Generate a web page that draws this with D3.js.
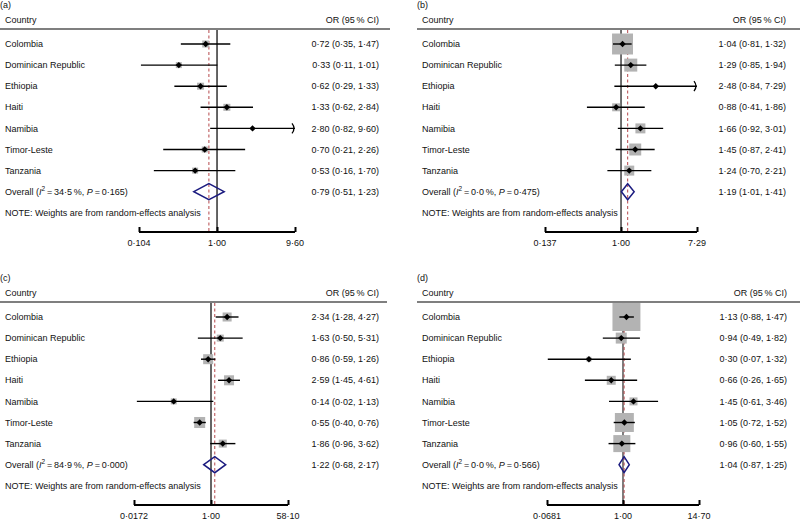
<!DOCTYPE html>
<html><head><meta charset="utf-8">
<script src="https://cdn.jsdelivr.net/npm/d3@7"></script>
<style>
html,body{margin:0;padding:0;background:#fff;}
svg text{font-family:"Liberation Sans",Arial,Helvetica,sans-serif;font-size:9px;fill:#111;}
</style></head>
<body><svg id="chart" width="800" height="520"></svg>
<script>
// ---- data ----
const countries = ["Colombia","Dominican Republic","Ethiopia","Haiti","Namibia","Timor-Leste","Tanzania"];
const panelLabels = ["(a)","(b)","(c)","(d)"];

const orA  = [0.72,0.33,0.62,1.33,2.80,0.70,0.53];
const loA  = [0.35,0.11,0.29,0.62,0.82,0.21,0.16];
const hiA  = [1.47,1.01,1.33,2.84,9.60,2.26,1.70];
const wA   = [18.6,13.6,18.6,18.6,3.4,13.6,13.6];

const orB  = [1.04,1.29,2.48,0.88,1.66,1.45,1.24];
const loB  = [0.81,0.85,0.84,0.41,0.92,0.87,0.70];
const hiB  = [1.32,1.94,7.29,1.86,3.01,2.41,2.21];
const wB   = [42.9,16.5,0.9,6.2,9.7,14.0,9.7];

const orC  = [2.34,1.63,0.86,2.59,0.14,0.55,1.86];
const loC  = [1.28,0.50,0.59,1.45,0.02,0.40,0.96];
const hiC  = [4.27,5.31,1.26,4.61,1.13,0.76,3.62];
const wC   = [14.7,8.9,18.1,18.1,6.5,22.0,11.6];

const orD  = [1.13,0.94,0.30,0.66,1.45,1.05,0.96];
const loD  = [0.88,0.49,0.07,0.26,0.61,0.72,0.60];
const hiD  = [1.47,1.82,1.32,1.65,3.46,1.52,1.55];
const wD   = [45.4,7.0,1.4,4.7,3.7,20.9,16.8];

const overallOR = [0.79,1.19,1.22,1.04];
const overallLo = [0.51,1.01,0.68,0.87];
const overallHi = [1.23,1.41,2.17,1.25];
const i2Values  = ["34·5","0·0","84·9","0·0"];
const pValues   = ["0·165","0·475","0·000","0·566"];

const tickLabels = [["0·104","1·00","9·60"],["0·137","1·00","7·29"],["0·0172","1·00","58·10"],["0·0681","1·00","14·70"]];
const tickValues = [[0.104,1,9.60],[0.137,1,7.29],[0.0172,1,58.10],[0.0681,1,14.70]];

const noteText = "NOTE: Weights are from random-effects analysis";

// ---- layout ----
const layouts = [
  {labelX:0,  countryX:5,   valRight:379, hdr:[0,390],   ax:[139,295], yOff:0,   boxK:1.625, refColor:"#111", refW:1.3},
  {labelX:417,countryX:422, valRight:786, hdr:[417,800], ax:[545,697], yOff:0,   boxK:3.2,   refColor:"#333", refW:1.4},
  {labelX:0,  countryX:5,   valRight:379, hdr:[0,387],   ax:[134,288], yOff:273, boxK:2.35,  refColor:"#666", refW:2},
  {labelX:417,countryX:422, valRight:787, hdr:[417,800], ax:[547,699], yOff:273, boxK:4.15,  refColor:"#555", refW:1.5}
];
const series = [[orA,loA,hiA,wA],[orB,loB,hiB,wB],[orC,loC,hiC,wC],[orD,loD,hiD,wD]];

const fmt = v => v.toFixed(2).replace(".", "·");
const svg = d3.select("#chart");

layouts.forEach((L, p) => {
  const g = svg.append("g").attr("transform", `translate(0,${L.yOff})`);
  const [ors, los, his, ws] = series[p];
  const tv = tickValues[p];
  const x = d3.scaleLog().domain([tv[0], tv[2]]).range(L.ax);
  const y = d3.scalePoint().domain([...countries, "Overall"]).range([44, 191.7]);
  const yTop = 30, yAxis = 232;

  // panel label & header
  g.append("text").attr("x", L.labelX).attr("y", 5).attr("dy","0.35em").text(panelLabels[p]);
  g.append("text").attr("x", L.countryX).attr("y", 20).attr("dy","0.35em").text("Country");
  g.append("text").attr("x", L.valRight).attr("y", 20).attr("dy","0.35em").attr("text-anchor","end").text("OR (95\u2009% CI)");
  g.append("line").attr("x1", L.hdr[0]).attr("x2", L.hdr[1]).attr("y1", 29).attr("y2", 29)
    .attr("stroke","#555").attr("stroke-width",1.6);

  // reference lines
  g.append("line").attr("x1", x(1)).attr("x2", x(1)).attr("y1", yTop).attr("y2", yAxis)
    .attr("stroke", L.refColor).attr("stroke-width", L.refW);
  g.append("line").attr("x1", x(overallOR[p])).attr("x2", x(overallOR[p])).attr("y1", yTop).attr("y2", yAxis)
    .attr("stroke","#b5474b").attr("stroke-width",1).attr("stroke-dasharray","3,2.5");

  // weight boxes
  countries.forEach((c, i) => {
    const s = L.boxK * Math.sqrt(ws[i]);
    g.append("rect").attr("x", x(ors[i]) - s/2).attr("y", y(c) - s/2)
      .attr("width", s).attr("height", s).attr("fill","#b3b3b3");
  });

  // CI lines, arrows, point markers
  countries.forEach((c, i) => {
    const lo = Math.max(los[i], tv[0]), hi = Math.min(his[i], tv[2]);
    g.append("line").attr("x1", x(lo)).attr("x2", x(hi)).attr("y1", y(c)).attr("y2", y(c))
      .attr("stroke","#000").attr("stroke-width",1.4);
    if (his[i] >= tv[2]) {
      const xe = x(tv[2]);
      g.append("path").attr("d", `M${xe-3},${y(c)-5} Q${xe+1},${y(c)} ${xe-3},${y(c)+5}`)
        .attr("fill","none").attr("stroke","#000").attr("stroke-width",1.3);
    }
    g.append("path").attr("transform", `translate(${x(ors[i])},${y(c)})`)
      .attr("d", "M0,-3.2L3.2,0L0,3.2L-3.2,0Z").attr("fill","#000");
    g.append("text").attr("x", L.countryX).attr("y", y(c)).attr("dy","0.35em").text(c);
    g.append("text").attr("x", L.valRight).attr("y", y(c)).attr("dy","0.35em").attr("text-anchor","end")
      .text(`${fmt(ors[i])} (${fmt(los[i])}, ${fmt(his[i])})`);
  });

  // overall diamond
  const yo = y("Overall");
  const xl = x(overallLo[p]), xm = x(overallOR[p]), xh = x(overallHi[p]);
  g.append("path").attr("d", `M${xl},${yo} L${xm},${yo-8} L${xh},${yo} L${xm},${yo+8} Z`)
    .attr("fill","none").attr("stroke","#1c1c80").attr("stroke-width",1.5);
  const ot = g.append("text").attr("x", L.countryX).attr("y", yo).attr("dy","0.35em");
  ot.append("tspan").text("Overall (");
  ot.append("tspan").attr("font-style","italic").text("I");
  ot.append("tspan").attr("dy", -4).attr("font-size","6.5px").text("2");
  ot.append("tspan").attr("dy", 4).text(`\u2009=\u2009${i2Values[p]}\u2009%, `);
  ot.append("tspan").attr("font-style","italic").text("P");
  ot.append("tspan").text(`\u2009=\u2009${pValues[p]})`);
  g.append("text").attr("x", L.valRight).attr("y", yo).attr("dy","0.35em").attr("text-anchor","end")
    .text(`${fmt(overallOR[p])} (${fmt(overallLo[p])}, ${fmt(overallHi[p])})`);

  // note
  g.append("text").attr("x", L.countryX).attr("y", 213).attr("dy","0.35em").text(noteText);

  // axis
  const axis = d3.axisTop(x).tickValues(tv).tickSize(5).tickFormat("");
  const ag = g.append("g").attr("transform", `translate(0,${yAxis})`).call(axis);
  ag.select(".domain").attr("d", `M${L.ax[0]},0H${L.ax[1]}`).attr("stroke","#000").attr("stroke-width",2);
  ag.selectAll(".tick line").attr("stroke","#000").attr("stroke-width",2);
  tv.forEach((v, k) => {
    g.append("text").attr("x", x(v)).attr("y", 242.5).attr("dy","0.35em").attr("text-anchor","middle").text(tickLabels[p][k]);
  });
});
</script></body></html>
